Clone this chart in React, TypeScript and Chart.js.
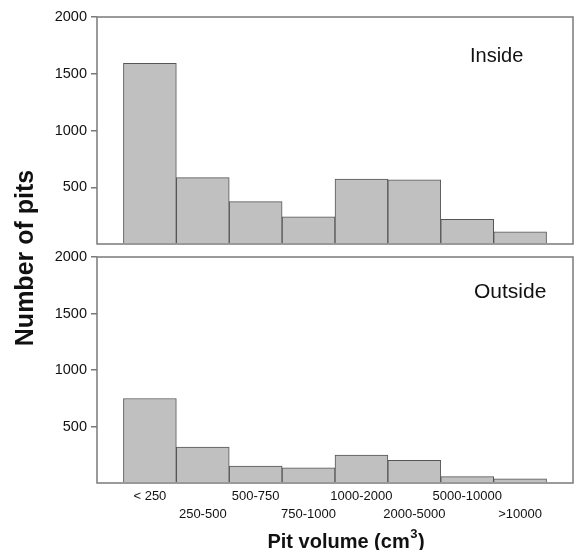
import React, { useEffect, useRef } from "react";
import { Chart, registerables } from "chart.js";

Chart.register(...registerables);

const categories = ["< 250", "250-500", "500-750", "750-1000", "1000-2000", "2000-5000", "5000-10000", ">10000"];
const insideValues = [1592, 585, 373, 240, 572, 566, 217, 107];
const outsideValues = [748, 318, 150, 135, 247, 200, 56, 38];
const yTicks = [500, 1000, 1500, 2000];
const panelLabels = ["Inside", "Outside"];
const yTitle = "Number of pits";
const xTitleMain = "Pit volume (cm";
const xTitleSup = "3";
const xTitleEnd = ")";

const W = 579;
const H = 550;
const FONT = "'Liberation Sans', Arial, Helvetica, sans-serif";
const FRAME = "#7a7a7a";
const TEXT = "#111111";

function makeConfig(values: number[], isBottom: boolean, label: string): any {
  const labels: any[] = ["", ...categories.map((c, i) => (i % 2 === 0 ? [c, ""] : ["", c])), ""];
  const data = [null, ...values, null];

  const framePlugin = {
    id: "frame" + (isBottom ? "B" : "T"),
    afterDatasetsDraw(chart: any) {
      const { ctx, chartArea } = chart;
      ctx.save();
      ctx.strokeStyle = FRAME;
      ctx.lineWidth = 1.5;
      ctx.strokeRect(chartArea.left, chartArea.top, chartArea.right - chartArea.left, chartArea.bottom - chartArea.top);
      ctx.fillStyle = TEXT;
      ctx.textBaseline = "alphabetic";
      ctx.textAlign = "left";
      if (isBottom) {
        ctx.font = `21px ${FONT}`;
        ctx.fillText(label, 474, 298);
        // y title
        ctx.save();
        ctx.translate(33, 258);
        ctx.rotate(-Math.PI / 2);
        ctx.font = `bold 25px ${FONT}`;
        ctx.textAlign = "center";
        ctx.fillText(yTitle, 0, 0);
        ctx.restore();
        // x title with superscript
        ctx.font = `bold 20px ${FONT}`;
        const w1 = ctx.measureText(xTitleMain).width;
        ctx.font = `bold 13px ${FONT}`;
        const w2 = ctx.measureText(xTitleSup).width;
        ctx.font = `bold 20px ${FONT}`;
        const w3 = ctx.measureText(xTitleEnd).width;
        const total = w1 + w2 + w3 + 1;
        let x = 346 - total / 2;
        ctx.fillText(xTitleMain, x, 548);
        x += w1 + 0.5;
        ctx.font = `bold 13px ${FONT}`;
        ctx.fillText(xTitleSup, x, 538);
        x += w2 + 0.5;
        ctx.font = `bold 20px ${FONT}`;
        ctx.fillText(xTitleEnd, x, 548);
      } else {
        ctx.font = `20px ${FONT}`;
        ctx.fillText(label, 470, 62);
      }
      ctx.restore();
    },
  };

  return {
    type: "bar",
    data: {
      labels,
      datasets: [
        {
          data,
          backgroundColor: "#c0c0c0",
          borderColor: "#555555",
          borderWidth: 1,
          barPercentage: 1,
          categoryPercentage: 1,
        },
      ],
    },
    options: {
      animation: false,
      responsive: false,
      maintainAspectRatio: false,
      layout: {
        padding: isBottom
          ? { left: 0, right: 6, top: 257, bottom: 27 }
          : { left: 0, right: 6, top: 17, bottom: 306 },
      },
      plugins: { legend: { display: false }, tooltip: { enabled: false }, title: { display: false } },
      scales: {
        x: {
          type: "category",
          offset: false,
          border: { display: false },
          grid: { display: false, drawTicks: false },
          ticks: {
            display: isBottom,
            autoSkip: false,
            maxRotation: 0,
            minRotation: 0,
            padding: 4,
            color: TEXT,
            font: { family: FONT, size: 13, lineHeight: 1.4 },
          },
          afterFit(scale: any) {
            scale.height = isBottom ? 40 : 0;
          },
        },
        y: {
          min: 0,
          max: 2000,
          border: { display: false },
          grid: {
            display: true,
            drawOnChartArea: false,
            drawTicks: true,
            tickLength: 6,
            lineWidth: 1.5,
            color: (ctx: any) => (ctx.tick && ctx.tick.value === 0 ? "rgba(0,0,0,0)" : FRAME),
          },
          afterBuildTicks(scale: any) {
            scale.ticks = [0, ...yTicks].map((v) => ({ value: v }));
          },
          ticks: {
            padding: 4,
            color: TEXT,
            font: { family: FONT, size: 14.5 },
            callback: (v: any) => (v === 0 ? "" : String(v)),
          },
          afterFit(scale: any) {
            scale.width = 97;
          },
        },
      },
    },
    plugins: [framePlugin],
  };
}

export default function App() {
  const topRef = useRef<HTMLCanvasElement>(null);
  const botRef = useRef<HTMLCanvasElement>(null);

  useEffect(() => {
    const c1 = new Chart(topRef.current as HTMLCanvasElement, makeConfig(insideValues, false, panelLabels[0]));
    const c2 = new Chart(botRef.current as HTMLCanvasElement, makeConfig(outsideValues, true, panelLabels[1]));
    return () => {
      c1.destroy();
      c2.destroy();
    };
  }, []);

  const style: React.CSSProperties = { position: "absolute", left: 0, top: 0, width: W, height: H };
  return (
    <div style={{ position: "fixed", left: 0, top: 0, width: W, height: H, background: "#fff" }}>
      <canvas ref={topRef} width={W} height={H} style={style} />
      <canvas ref={botRef} width={W} height={H} style={style} />
    </div>
  );
}
